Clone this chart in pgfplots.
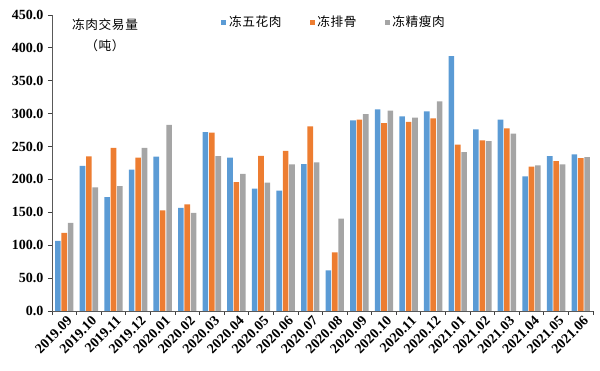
\documentclass[border=0pt]{standalone}
\usepackage{fontspec}
\setmainfont{Liberation Serif}
\newfontfamily\cjk[LetterSpace=5]{Noto Sans CJK SC}
\usepackage{pgfplots}
\pgfplotsset{compat=1.18}
\definecolor{cblue}{HTML}{5B9BD5}
\definecolor{corange}{HTML}{ED7D31}
\definecolor{cgray}{HTML}{A5A5A5}
\begin{document}
\begin{tikzpicture}[x=1pt,y=1pt]
\useasboundingbox (0,0) rectangle (450,278.25);
\begin{axis}[
  at={(39pt,45pt)}, anchor=south west,
  scale only axis, width=405.75pt, height=222pt,
  ymin=0, ymax=450, ytick={0,50,...,450},
  xmin=-0.5, xmax=21.5,
  xtick={-0.5,0.5,...,21.5},
  x tick label as interval,
  xticklabels={2019.09,2019.10,2019.11,2019.12,2020.01,2020.02,2020.03,2020.04,2020.05,2020.06,2020.07,2020.08,2020.09,2020.10,2020.11,2020.12,2021.01,2021.02,2021.03,2021.04,2021.05,2021.06},
  axis x line*=bottom, axis y line*=left,
  axis line style={black!65, line width=0.6pt},
  tick style={black!75, line width=0.6pt},
  tick align=outside, major tick length=3pt,
  /pgf/number format/assume math mode=true,
  yticklabel style={/pgf/number format/.cd, fixed, fixed zerofill, precision=1},
  ticklabel style={font=\bfseries\fontsize{10.5}{12}\selectfont},
  x tick label style={rotate=45, anchor=north east, inner sep=1pt, xshift=2pt},
  ybar=0.6pt, bar width=4.2pt,
  legend style={at={(0.305,0.976)}, anchor=west, legend columns=3, draw=none, fill=none,
    font=\cjk\fontsize{9.5}{11}\selectfont,
    /tikz/every even column/.append style={column sep=19pt}},
  legend image code/.code={\fill[#1] (0pt,-1.9pt) rectangle (3.8pt,1.9pt);},
]
\addplot[fill=cblue, draw=none] coordinates {
(0,106.6) (1,220.8) (2,173) (3,215) (4,234.5) (5,156.8) (6,272) (7,233) (8,186) (9,183) (10,223.4) (11,61.8) (12,289.8) (13,306.5) (14,295.8) (15,303.4) (16,387.5) (17,276) (18,290.8) (19,204.7) (20,235.6) (21,238)};
\addplot[fill=corange, draw=none] coordinates {
(0,118.8) (1,235) (2,248) (3,233) (4,152.8) (5,162) (6,271) (7,196) (8,236) (9,243.6) (10,280.6) (11,89) (12,290.8) (13,285.7) (14,287.7) (15,292.8) (16,252.8) (17,259.4) (18,277.6) (19,219.4) (20,228) (21,232.5)};
\addplot[fill=cgray, draw=none] coordinates {
(0,134) (1,188) (2,190) (3,248) (4,283) (5,149) (6,235.5) (7,208.6) (8,195) (9,223) (10,226) (11,140.3) (12,299.4) (13,304.7) (14,293.8) (15,318.6) (16,241.6) (17,258.4) (18,269.5) (19,221.4) (20,223) (21,234)};
\legend{冻五花肉,冻排骨,冻精瘦肉}
\end{axis}
\node[font=\cjk\fontsize{9.5}{11}\selectfont] at (78.75,259.5) {冻肉交易量};
\node[font=\cjk\fontsize{9.5}{11}\selectfont] at (78.75,243.75) {（吨）};
\end{tikzpicture}
\end{document}
